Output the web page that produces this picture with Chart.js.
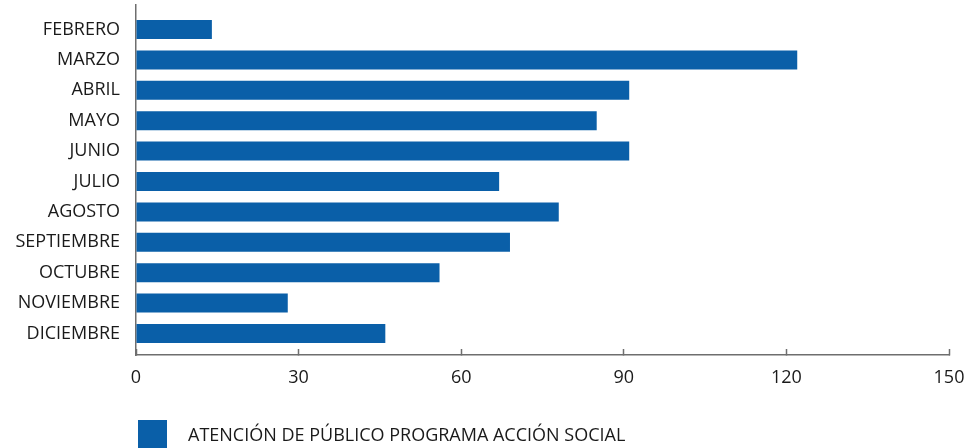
<!DOCTYPE html>
<html>
<head>
<meta charset="utf-8">
<script src="https://cdn.jsdelivr.net/npm/chart.js@4/dist/chart.umd.min.js"></script>
<style>
  body { margin: 0; background: #fff; }
  #wrap { position: relative; width: 969px; height: 448px; }
  #legend {
    position: absolute; left: 138px; top: 420px;
    display: flex; align-items: center;
    font-family: "Open Sans", sans-serif; font-size: 18px; color: #1a1a1a;
  }
  #legend .box { width: 29px; height: 28px; margin-right: 21px; }
</style>
</head>
<body>
<div id="wrap">
  <canvas id="chart" width="969" height="448"></canvas>
  <div id="legend"></div>
</div>
<script>
const months = ['FEBRERO', 'MARZO', 'ABRIL', 'MAYO', 'JUNIO', 'JULIO', 'AGOSTO',
  'SEPTIEMBRE', 'OCTUBRE', 'NOVIEMBRE', 'DICIEMBRE'];
const atenciones = [14, 122, 91, 85, 91, 67, 78, 69, 56, 28, 46];
const seriesLabel = 'ATENCIÓN DE PÚBLICO PROGRAMA ACCIÓN SOCIAL';
const xTicks = [0, 30, 60, 90, 120, 150];

const barColor = '#0a5fa8';
const axisColor = '#6e6e6e';
const font = { family: '"Open Sans", sans-serif', size: 18 };

// legend (html, same colour and label as the dataset)
const legend = document.getElementById('legend');
legend.innerHTML = `<span class="box" style="background:${barColor}"></span><span>${seriesLabel}</span>`;

// no extra label padding, layout.padding alone sets the plot box
function noPad(s) {
  s.paddingTop = 0; s.paddingBottom = 0;
  s.paddingLeft = 0; s.paddingRight = 0;
}

new Chart(document.getElementById('chart'), {
  type: 'bar',
  data: {
    datasets: [{
      label: seriesLabel,
      data: atenciones.map((v, i) => ({ x: v, y: i })),
      backgroundColor: barColor,
      categoryPercentage: 1,
      barPercentage: 0.625
    }]
  },
  options: {
    indexAxis: 'y',
    responsive: false,
    animation: false,
    layout: { padding: { top: 5, right: 20, bottom: 53, left: 0 } },
    plugins: { legend: { display: false }, tooltip: { enabled: false } },
    scales: {
      x: {
        type: 'linear',
        min: xTicks[0],
        max: xTicks[xTicks.length - 1],
        afterBuildTicks: s => { s.ticks = xTicks.map(v => ({ value: v })); },
        afterFit: s => { s.height = 40; noPad(s); },
        grid: {
          drawOnChartArea: false,
          drawTicks: true,
          tickLength: -6,
          tickColor: axisColor,
          tickWidth: 1.5
        },
        border: { color: axisColor, width: 1.5 },
        ticks: { color: '#1a1a1a', font: font, padding: 18, maxRotation: 0 }
      },
      y: {
        type: 'linear',
        reverse: true,
        offset: false,
        min: -0.806,
        max: 10.707,
        afterFit: s => { s.width = 136; noPad(s); },
        grid: { offset: false, drawOnChartArea: false, drawTicks: false },
        border: { color: axisColor, width: 1.5 },
        ticks: {
          stepSize: 1,
          includeBounds: false,
          autoSkip: false,
          color: '#1a1a1a',
          font: font,
          padding: 16,
          callback: v => months[v] || ''
        }
      }
    }
  }
});
</script>
</body>
</html>
